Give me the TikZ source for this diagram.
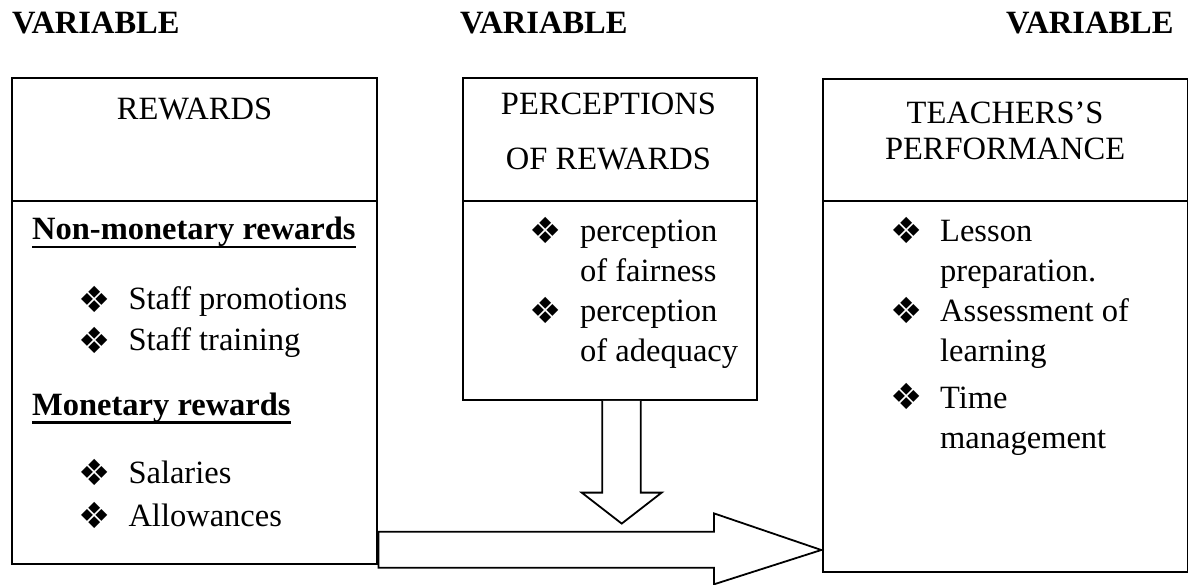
\documentclass[tikz,border=0pt]{standalone}
\usepackage{fontspec}
\setmainfont{Liberation Serif}
\newfontfamily\symfont{DejaVu Sans}
\usetikzlibrary{calc}
\newcommand\myul[1]{\setbox0\hbox{#1}\rlap{\rule[-8.5pt]{\wd0}{2.5pt}}\box0}
\tikzset{
  boxst/.style={draw, line width=1.8pt, inner sep=0pt, rectangle},
  txt/.style={inner sep=0pt, font=\fontsize{32.5}{37}\selectfont},
  btxt/.style={inner sep=0pt, anchor=base west, font=\fontsize{32.5}{37}\selectfont\bfseries},
  ctxt/.style={txt, anchor=base},
  ltxt/.style={txt, anchor=base west},
  bul/.style={inner sep=0pt, anchor=center, font=\symfont\fontsize{36}{36}\selectfont},
  blockarrow/.style={draw, line width=1.8pt, fill=white},
}
\begin{document}
\begin{tikzpicture}[x=1pt,y=-1pt]
\useasboundingbox (0,0) rectangle (1189,585);
% headings
\node[btxt] (v1) at (12,33.5) {VARIABLE};
\node[btxt] (v2) at (460,33.5) {VARIABLE};
\node[btxt] (v3) at (1006,33.5) {VARIABLE};
% boxes
\node[boxst, minimum width=365pt, minimum height=122.7pt] (Lh) at (194.5,139.35) {};
\node[boxst, minimum width=365pt, minimum height=363.3pt] (Lb) at (194.5,382.35) {};
\node[boxst, minimum width=294pt, minimum height=122.4pt] (Mh) at (609.7,139.5) {};
\node[boxst, minimum width=294pt, minimum height=199.3pt] (Mb) at (609.7,300.35) {};
\node[boxst, minimum width=364.8pt, minimum height=121.7pt] (Rh) at (1005.1,139.85) {};
\node[boxst, minimum width=364.8pt, minimum height=371pt] (Rb) at (1005.1,386.2) {};
% arrows
\draw[blockarrow] ($(Mb.south)+(-7.4,0)$) coordinate (da1)
  -- ++(0,91.7) -- ++(-20.6,0) -- ($(Mb.south)+(12,122.7)$) coordinate (datip)
  -- ($(Mb.south)+(52,91.7)$) -- ($(Mb.south)+(31,91.7)$) -- ($(Mb.south)+(31,0)$);
\draw[blockarrow] ($(Lb.east)+(0.5,149.35)$) coordinate (ra1)
  -- ($(Lb.east)+(336,149.35)$) -- ($(Lb.east)+(336,131)$)
  -- ($(Rb.west)+(-0.5,163.8)$) coordinate (ratip)
  -- ($(Lb.east)+(336,202)$) -- ($(Lb.east)+(336,185.35)$)
  -- ($(Lb.east)+(0.5,185.35)$) -- cycle;
% left box text
\node[ctxt] (t1) at (194.5,119.3) {REWARDS};
\node[btxt] (t2) at (32,240) {\myul{Non-monetary rewards}};
\node[bul] (b1) at (94.4,299) {❖};
\node[ltxt] (t3) at (128.3,310) {Staff promotions};
\node[bul] (b2) at (94.4,340) {❖};
\node[ltxt] (t4) at (128.3,351) {Staff training};
\node[btxt] (t5) at (32,415) {\myul{Monetary rewards}};
\node[bul] (b3) at (94.4,472.3) {❖};
\node[ltxt] (t6) at (128.3,483.3) {Salaries};
\node[bul] (b4) at (94.4,515.7) {❖};
\node[ltxt] (t7) at (128.3,526.7) {Allowances};
% middle box text
\node[ctxt] (m1) at (608.4,114.3) {PERCEPTIONS};
\node[ctxt] (m2) at (608.4,170) {OF REWARDS};
\node[bul] (mb1) at (545.8,230.7) {❖};
\node[ltxt] (m3) at (580,241.7) {perception};
\node[ltxt] (m4) at (580,281.7) {of fairness};
\node[bul] (mb2) at (545.8,310.7) {❖};
\node[ltxt] (m5) at (580,321.7) {perception};
\node[ltxt] (m6) at (580,361.7) {of adequacy};
% right box text
\node[ctxt] (r1) at (1005.1,123.3) {TEACHERS’S};
\node[ctxt] (r2) at (1005.1,160) {PERFORMANCE};
\node[bul] (rb1) at (906.7,230.2) {❖};
\node[ltxt] (r3) at (940,241.7) {Lesson};
\node[ltxt] (r4) at (940,281.7) {preparation.};
\node[bul] (rb2) at (906.7,310.2) {❖};
\node[ltxt] (r5) at (940,321.7) {Assessment of};
\node[ltxt] (r6) at (940,361.7) {learning};
\node[bul] (rb3) at (906.7,396.8) {❖};
\node[ltxt] (r7) at (940,408.3) {Time};
\node[ltxt] (r8) at (940,448.3) {management};
\end{tikzpicture}
\end{document}
